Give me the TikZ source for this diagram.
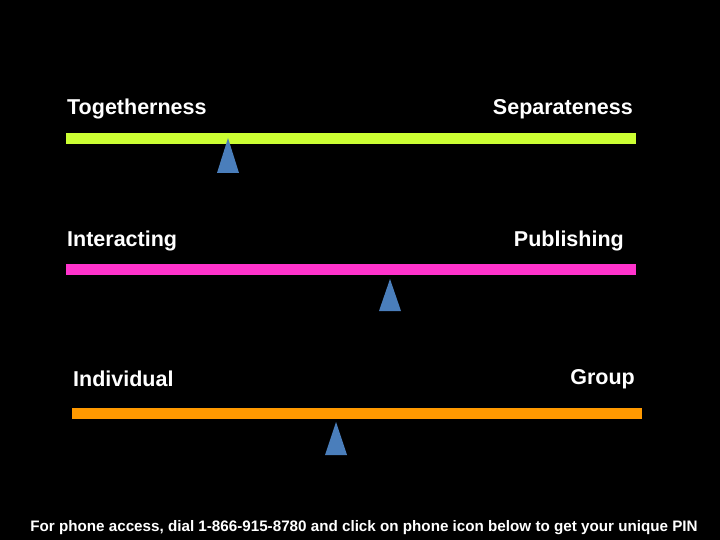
\documentclass[tikz,border=0pt]{standalone}
\usepackage{fontspec}
\setmainfont{Liberation Sans}
\begin{document}
\begin{tikzpicture}[x=1pt,y=-1pt,
  lbl/.style={text=white,font=\bfseries\fontsize{21.5}{24}\selectfont,inner sep=0pt},
  tri/.style={fill=triblue,draw=none},
  bar/.style={draw=none}]
\definecolor{triblue}{RGB}{74,126,187}
\definecolor{gbar}{RGB}{204,255,51}
\definecolor{pbar}{RGB}{255,51,204}
\definecolor{obar}{RGB}{255,153,0}
\fill[black] (0,0) rectangle (720,540);
\useasboundingbox (0,0) rectangle (720,540);
\node[lbl,anchor=west] (t1) at (67,109) {Togetherness};
\node[lbl,anchor=east] (t2) at (633,109) {Separateness};
\fill[gbar] (66,133) rectangle (636,144);
\fill[tri] (228,138) -- (239,173) -- (217,173) -- cycle;
\node[lbl,anchor=west] (i1) at (67,241) {Interacting};
\node[lbl,anchor=east] (i2) at (624,241) {Publishing};
\fill[pbar] (66,264) rectangle (636,275);
\fill[tri] (390,279) -- (401,311) -- (379,311) -- cycle;
\node[lbl,anchor=west] (g1) at (73,379) {Individual};
\node[lbl,anchor=east] (g2) at (635,379) {Group};
\fill[obar] (72,408) rectangle (642,419);
\fill[tri] (336,422) -- (347,455) -- (325,455) -- cycle;
\node[lbl,font=\bfseries\fontsize{15.2}{17}\selectfont] (f) at (364,528) {For phone access, dial 1-866-915-8780 and click on phone icon below to get your unique PIN};
\end{tikzpicture}
\end{document}
